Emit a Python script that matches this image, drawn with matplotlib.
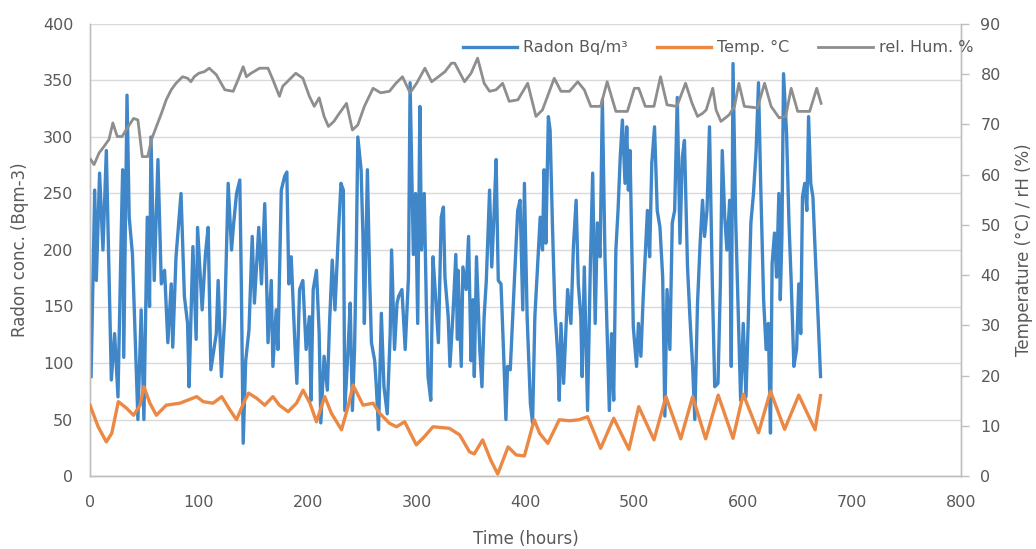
import matplotlib
matplotlib.use("Agg")
import matplotlib.pyplot as plt

# ---------------- data ----------------
radon_hours = [1, 4.3, 5.8, 8.8, 11.9, 15, 18, 19.6, 22.6, 25.7, 28.7, 30, 31, 34, 36, 39, 44, 47,
               49.5, 52.6, 54.7, 56, 59, 62.4, 65.5, 68.5, 71.5, 74.6, 76, 79, 83.6, 86.7, 89.6, 91,
               94.5, 97.5, 98.8, 103, 106, 108.5, 111, 116, 117.7, 120.7, 123.8, 126.9, 130, 132,
               134.6, 137.6, 139, 140.7, 143, 146, 149, 151, 155, 157.5, 160.5, 163.5, 166.5, 168,
               171, 172.6, 175.7, 178.7, 180.8, 182.6, 184.8, 188, 190, 192.5, 195.5, 198.5, 201.5,
               203, 205, 208, 210.5, 212, 215, 218, 220, 222.5, 225, 228, 230.5, 232.7, 234, 237,
               239, 241, 243, 244.6, 246, 249, 250.7, 252, 254.8, 257, 258.5, 261.5, 263, 265,
               267.6, 270, 273, 275.7, 277, 279.7, 282, 283.5, 286.5, 289.5, 292.5, 294, 297, 299,
               301, 303, 304.5, 307, 309, 310.5, 313, 315, 317, 320, 322.6, 324.6, 326, 329, 330.6,
               333.6, 336, 337.5, 338, 341, 342.5, 345.5, 347.7, 350, 351.7, 353, 355, 358, 360,
               362, 364, 367, 369, 371, 373, 375, 377.5, 380, 382, 383.5, 386, 389.7, 392.8, 395,
               397.5, 399, 401.5, 404.5, 406.5, 408.6, 411, 413.5, 415.6, 417, 418.7, 421, 422.6,
               424.8, 427, 429.7, 431, 432.6, 435, 438.7, 441.7, 444, 446.5, 448.5, 450.8, 452, 454,
               457, 459.6, 461.7, 464, 466, 468.5, 470.6, 473, 475, 477, 479, 481, 483, 485, 487,
               489, 491.4, 493, 494.5, 496, 497.7, 499, 502, 503.7, 506, 508, 512, 514, 516, 518.5,
               521, 523.5, 526, 528, 530, 532.6, 534.8, 537, 539.4, 541.9, 544, 546, 548.8, 551,
               553.5, 555.5, 558, 560.4, 562.6, 564.5, 566.7, 569, 571.6, 573.8, 576.8, 579, 580.7,
               583, 585, 587.5, 589, 590.6, 593, 595.5, 597.6, 600, 602.5, 604.7, 607, 609.4, 611.8,
               614, 616, 618.7, 621, 623, 625, 626.5, 628.7, 630.6, 632.7, 634, 635.5, 637, 639.8,
               642, 644, 646.5, 649, 651, 652.8, 654.4, 656.5, 658.4, 660, 662, 664, 666, 668.7,
               671]
radon_vals = [88, 253, 173, 268, 200, 288, 156, 85, 126, 70, 215, 271, 105, 337, 229, 196, 50, 147,
              50, 229, 150, 300, 173, 280, 170, 182, 118, 170, 114, 194, 250, 159, 135, 79,
              203, 121, 220, 147, 196, 220, 94, 126, 173, 88, 141, 259, 200, 224,
              250, 262, 170, 29, 102, 129, 212, 153, 220, 170, 241, 118, 173, 97,
              147, 112, 253, 265, 269, 170, 194, 121, 82, 165, 173, 112, 141,
              67, 165, 182, 126, 47, 106, 76, 135, 191, 147, 212, 259, 253, 58, 112,
              153, 58, 112, 200, 300, 271, 212, 135, 271, 170, 118, 102, 79, 41,
              144, 79, 55, 126, 200, 112, 153, 159, 165, 112, 176, 348, 196, 250,
              135, 327, 200, 250, 147, 88, 67, 194, 165, 118, 229, 238, 176, 141, 97,
              147, 196, 121, 182, 97, 185, 165, 212, 102, 156, 88, 194, 112, 79,
              141, 173, 253, 185, 229, 280, 173, 170, 106, 50, 97, 94, 170, 235, 244,
              147, 259, 141, 64, 47, 141, 185, 229, 200, 271, 206, 318, 306,
              220, 147, 106, 67, 135, 82, 165, 135, 203, 244, 170, 141, 88, 185,
              58, 188, 268, 135, 224, 194, 333, 194, 126, 58, 126, 67, 200, 235, 282,
              315, 259, 309, 253, 288, 200, 132, 97, 135, 106, 156, 235, 194, 277, 309,
              235, 220, 176, 53, 165, 112, 224, 235, 335, 206, 282, 297, 185, 141,
              97, 50, 153, 206, 244, 212, 235, 309, 170, 79, 82, 170, 288,
              229, 200, 244, 97, 365, 229, 141, 67, 135, 70, 141, 224, 250, 288,
              348, 259, 156, 112, 135, 38, 188, 215, 176, 250, 156, 212, 356, 303,
              224, 173, 97, 112, 170, 126, 247, 259, 235, 318, 259, 247, 200, 141,
              88]

temp_hours = [0, 7.5, 15, 20, 26, 33.6, 40, 46, 49.5, 55, 61, 70, 82.6, 98, 104, 113, 121, 128.7,
              134.6, 141, 145.6, 153, 160.5, 168, 174, 182, 189.7, 195.7, 202, 208, 215.6, 221.7,
              231, 237, 241.6, 250.8, 260, 266, 275, 281.5, 289, 299.7, 307, 315, 330, 339.5,
              348.6, 353, 360.6, 368, 374.5, 384, 391.4, 399, 408, 413, 420.5, 431, 440.5, 449,
              457, 469, 481, 495, 504, 518, 529, 542.6, 553.5, 565.5, 577, 590.6, 600, 614, 625,
              638, 651, 666, 671]
temp_vals = [14.1, 9.8, 6.8, 8.5, 14.8, 13.5, 12.1, 14.1, 17.8, 14.5, 12.1, 14.1, 14.5, 15.8, 14.8,
             14.5, 15.8, 13.1, 11.2, 14.5, 16.5, 15.5, 14.1, 15.8, 14.1, 12.8, 14.5, 17.1, 14.5,
             10.8, 15.8, 12.5, 9.2, 13.8, 18.1, 14.1, 14.5, 12.5, 10.5, 9.8, 10.8, 6.2, 7.8, 9.8,
             9.5, 8.2, 4.8, 4.4, 7.2, 3.2, 0.4, 5.8, 4.2, 4.0, 11.2, 8.5, 6.5, 11.2, 11.0, 11.2,
             11.8, 5.5, 11.5, 5.3, 13.8, 7.2, 15.8, 7.4, 15.8, 7.4, 16.1, 7.5, 16.3, 8.6, 16.9,
             9.3, 16.1, 9.2, 16.0]

hum_hours = [0.7, 3.7, 8.3, 12.8, 17.4, 21, 25, 29.5, 34, 40, 44, 48, 53, 56.5, 61, 65.6, 70, 74.6,
             79, 85, 89.6, 92.7, 95.7, 100, 105, 109.5, 116, 123.8, 131.5, 136, 140.7, 143.7, 148,
             155.8, 163.5, 168, 174, 177, 183, 189, 195.5, 201.5, 206, 210.5, 215, 219, 224, 228,
             235.6, 241, 246, 252, 260, 267, 275, 281, 287, 294, 300, 307.6, 313.8, 320, 326, 332,
             335, 344, 350, 356, 362, 367, 373, 379, 385, 393, 402, 409.6, 415.6, 426.4, 432.6,
             440.4, 448, 454, 460, 469, 475, 483, 493.6, 500, 504, 510, 518, 524, 530, 539, 547,
             553, 558, 562.6, 566, 572, 575, 579.5, 587, 592, 596, 601, 613, 619.6, 625.6, 633,
             639, 644, 650, 661, 667.5, 671.5]
hum_vals = [63, 62, 64.3, 65.6, 67, 70.3, 67.6, 67.6, 69.2, 71.2, 70.9, 63.6, 63.6, 67, 69.6, 72.2,
            74.9, 76.9, 78.2, 79.5, 79.2, 78.5, 79.5, 80.2, 80.5, 81.2, 79.9, 76.9, 76.6, 78.9,
            81.5, 79.5, 80.2, 81.2, 81.2, 78.9, 75.6, 77.6, 78.9, 80.2, 79.2, 75.6, 73.6, 75.3,
            71.6, 69.6, 70.6, 71.9, 74.2, 68.9, 69.9, 73.6, 77.2, 76.3, 76.6, 78.2, 79.5, 76.3,
            78.2, 81.2, 78.5, 79.5, 80.5, 82.2, 82.2, 78.5, 80.2, 83.2, 78.2, 76.6, 76.9, 78.2,
            74.6, 74.9, 78.2, 71.6, 72.9, 79.2, 76.6, 76.6, 78.5, 76.9, 73.6, 73.6, 78.5, 72.6,
            72.6, 77.2, 77.2, 73.6, 73.6, 79.5, 73.9, 73.6, 78.2, 74.2, 71.6, 72.2, 72.9, 77.2,
            72.9, 70.6, 71.9, 73.6, 78.2, 73.6, 73.3, 78.2, 73.6, 71.3, 71.6, 77.2, 72.6, 72.6,
            77.2, 74.2]

x_ticks = [0, 100, 200, 300, 400, 500, 600, 700, 800]
left_ticks = [0, 50, 100, 150, 200, 250, 300, 350, 400]
right_ticks = [0, 10, 20, 30, 40, 50, 60, 70, 80, 90]

labels = ["Radon Bq/m\u00b3", "Temp. \u00b0C", "rel. Hum. %"]
colors = ["#3F87C8", "#EB8843", "#8E8E8E"]

# ---------------- plotting ----------------
plt.rcParams['font.family'] = ['DejaVu Sans']
txt = "#595959"
grid_c = "#D9D9D9"

fig = plt.figure(figsize=(10.36, 5.49), dpi=100)
ax = fig.add_axes([90 / 1036, 1 - 476 / 549, (961 - 90) / 1036, (476 - 24) / 549])
ax2 = ax.twinx()

ax.set_xlim(0, 800)
ax.set_ylim(0, 400)
ax2.set_ylim(0, 90)
ax.set_xticks(x_ticks)
ax.set_yticks(left_ticks)
ax2.set_yticks(right_ticks)

ax.yaxis.grid(True, color=grid_c, linewidth=1.0)
ax.set_axisbelow(True)

l1, = ax.plot(radon_hours, radon_vals, color=colors[0], linewidth=2.4, zorder=3)
l2, = ax2.plot(temp_hours, temp_vals, color=colors[1], linewidth=2.4, zorder=3)
l3, = ax2.plot(hum_hours, hum_vals, color=colors[2], linewidth=2.0, zorder=3)

for a in (ax, ax2):
    for s in a.spines.values():
        s.set_color("#BFBFBF")
        s.set_linewidth(1.0)
    a.spines['top'].set_visible(False)

ax.tick_params(axis='y', colors=txt, labelsize=11.5, length=0, pad=12)
ax.tick_params(axis='x', colors=txt, labelsize=11.5, length=0, pad=14)
ax2.tick_params(axis='y', colors=txt, labelsize=11.5, length=6, width=1.0, pad=8)
ax2.tick_params(axis='y', color="#BFBFBF")

ax.set_xlabel("Time (hours)", color=txt, fontsize=12, labelpad=14)
ax.set_ylabel("Radon conc. (Bqm-3)", color=txt, fontsize=12, labelpad=10)
ax2.set_ylabel("Temperature (\u00b0C) / rH (%)", color=txt, fontsize=12, labelpad=10)

fig.legend([l1, l2, l3], labels, loc='upper right', bbox_to_anchor=(988 / 1036, 1 - 26 / 549),
           ncol=3, frameon=False, fontsize=11.5, handlelength=3.4, columnspacing=1.8,
           handletextpad=0.4, labelcolor=txt)

fig.savefig("out.png", dpi=100)
